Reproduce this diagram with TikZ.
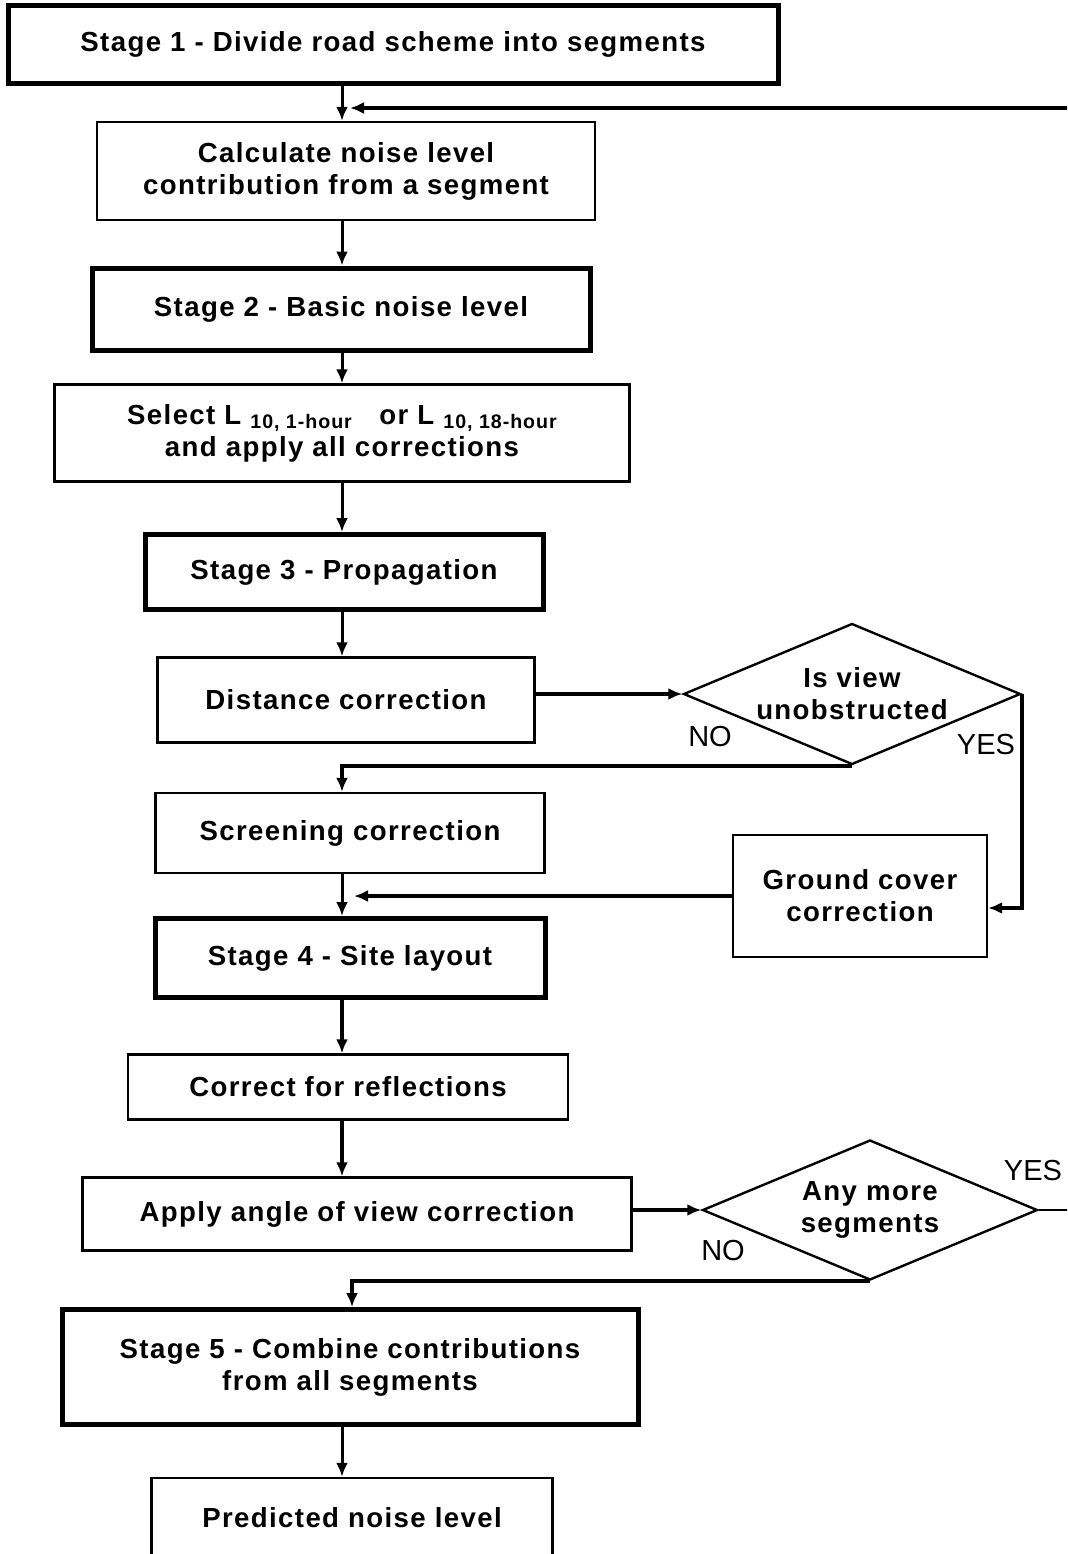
\documentclass[tikz,border=0pt]{standalone}
\usepackage{fontspec}
\setmainfont{Liberation Sans}[LetterSpace=5]
\usetikzlibrary{arrows.meta, shapes.geometric}

\newcommand{\lsub}[1]{\raisebox{-0.3ex}{\fontsize{9.8}{11}\selectfont #1}}

\begin{document}
\begin{tikzpicture}
        [x=0.5pt, y=-0.5pt,
        font=\fontsize{13.8}{16}\selectfont\bfseries,
        stage/.style={rectangle, draw=black, line width=2.5pt, align=center},
        task/.style={rectangle, draw=black, line width=1.2pt, align=center},
        query/.style={diamond, draw=black, line width=1.2pt, align=center, inner sep=0pt, aspect=2.4},
        answer/.style={font=\fontsize{14.5}{16}\selectfont\addfontfeature{LetterSpace=0}},
        arr/.style={-{Latex[length=7pt,width=6pt]}, line width=1.5pt},
        heavy/.style={arr, line width=2.2pt}]
        \useasboundingbox (0,0) rectangle (1067,1554);
        \clip (0,0) rectangle (1067,1554);
        \coordinate (spine) at (342,0);
        \coordinate (rail) at (1090,0);
        \coordinate (rejoin) at (350,108);
        % main column
        \node (stageone) at (393,44) [stage, minimum width=385pt, minimum height=39pt]
           {Stage 1 - Divide road scheme into segments};
        \node (calc) at (346,171) [task, minimum width=249pt, minimum height=49pt]
           {Calculate noise level\\contribution from a segment};
        \node (stagetwo) at (341,309) [stage, minimum width=249pt, minimum height=41pt]
           {Stage 2 - Basic noise level};
        \node (select) at (342,433) [task, minimum width=287.5pt, minimum height=48.5pt]
           {Select L \lsub{10, 1-hour}\quad or L \lsub{10, 18-hour}\\and apply all corrections};
        \node (stagethree) at (344,572) [stage, minimum width=199pt, minimum height=37.5pt]
           {Stage 3 - Propagation};
        \node (distance) at (346,700) [task, minimum width=188.5pt, minimum height=42.5pt]
           {Distance correction};
        \node (screening) at (350,833) [task, minimum width=194.5pt, minimum height=40pt]
           {Screening correction};
        \node (stagefour) at (350,958) [stage, minimum width=195pt, minimum height=39.5pt]
           {Stage 4 - Site layout};
        \node (reflect) at (348,1087) [task, minimum width=220pt, minimum height=32.5pt]
           {Correct for reflections};
        \node (apply) at (357,1214) [task, minimum width=274.5pt, minimum height=36.5pt]
           {Apply angle of view correction};
        \node (stagefive) at (350,1367) [stage, minimum width=288pt, minimum height=57.5pt]
           {Stage 5 - Combine contributions\\from all segments};
        \node (predicted) at (352,1518) [task, minimum width=200.5pt, minimum height=40pt]
           {Predicted noise level};
        % side branch
        \node (view) at (852,694) [query, minimum width=168.5pt, minimum height=70.5pt]
           {Is view\\unobstructed};
        \node (ground) at (860,896) [task, minimum width=127pt, minimum height=61pt]
           {Ground cover\\correction};
        \node (more) at (870,1210) [query, minimum width=167.5pt, minimum height=70pt]
           {Any more\\segments};
        \node (viewno) at (710,737) [answer] {NO};
        \node (viewyes) at (986,745) [answer] {YES};
        \node (moreyes) at (1033,1170) [answer] {YES};
        \node (moreno) at (723,1250) [answer] {NO};
        % connectors
        \draw[arr] (stageone.south -| spine) -- (calc.north -| spine);
        \draw[arr] (calc.south -| spine) -- (stagetwo.north -| spine);
        \draw[arr] (stagetwo.south -| spine) -- (select.north -| spine);
        \draw[arr] (select.south -| spine) -- (stagethree.north -| spine);
        \draw[arr] (stagethree.south -| spine) -- (distance.north -| spine);
        \draw[heavy] (view.west -| distance.east) -- (view.west);
        \draw[heavy] (view.south) -| (screening.north -| spine);
        \draw[heavy] (view.east) |- ([yshift=-6pt]ground.east);
        \draw[heavy] (ground.west) -- ([xshift=6pt]ground.west -| spine);
        \draw[arr] (screening.south -| spine) -- (stagefour.north -| spine);
        \draw[heavy] (stagefour.south -| spine) -- (reflect.north -| spine);
        \draw[heavy] (reflect.south -| spine) -- (apply.north -| spine);
        \draw[heavy] (more.west -| apply.east) -- (more.west);
        \draw[heavy] (more.south) -| ([xshift=5pt]stagefive.north -| spine);
        \draw[arr] (stagefive.south -| spine) -- (predicted.north -| spine);
        % loop back to the next segment
        \draw[line width=1.2pt] (more.east) -- (more.east -| rail);
        \draw[heavy] (rejoin -| rail) -- (rejoin);
\end{tikzpicture}
\end{document}
